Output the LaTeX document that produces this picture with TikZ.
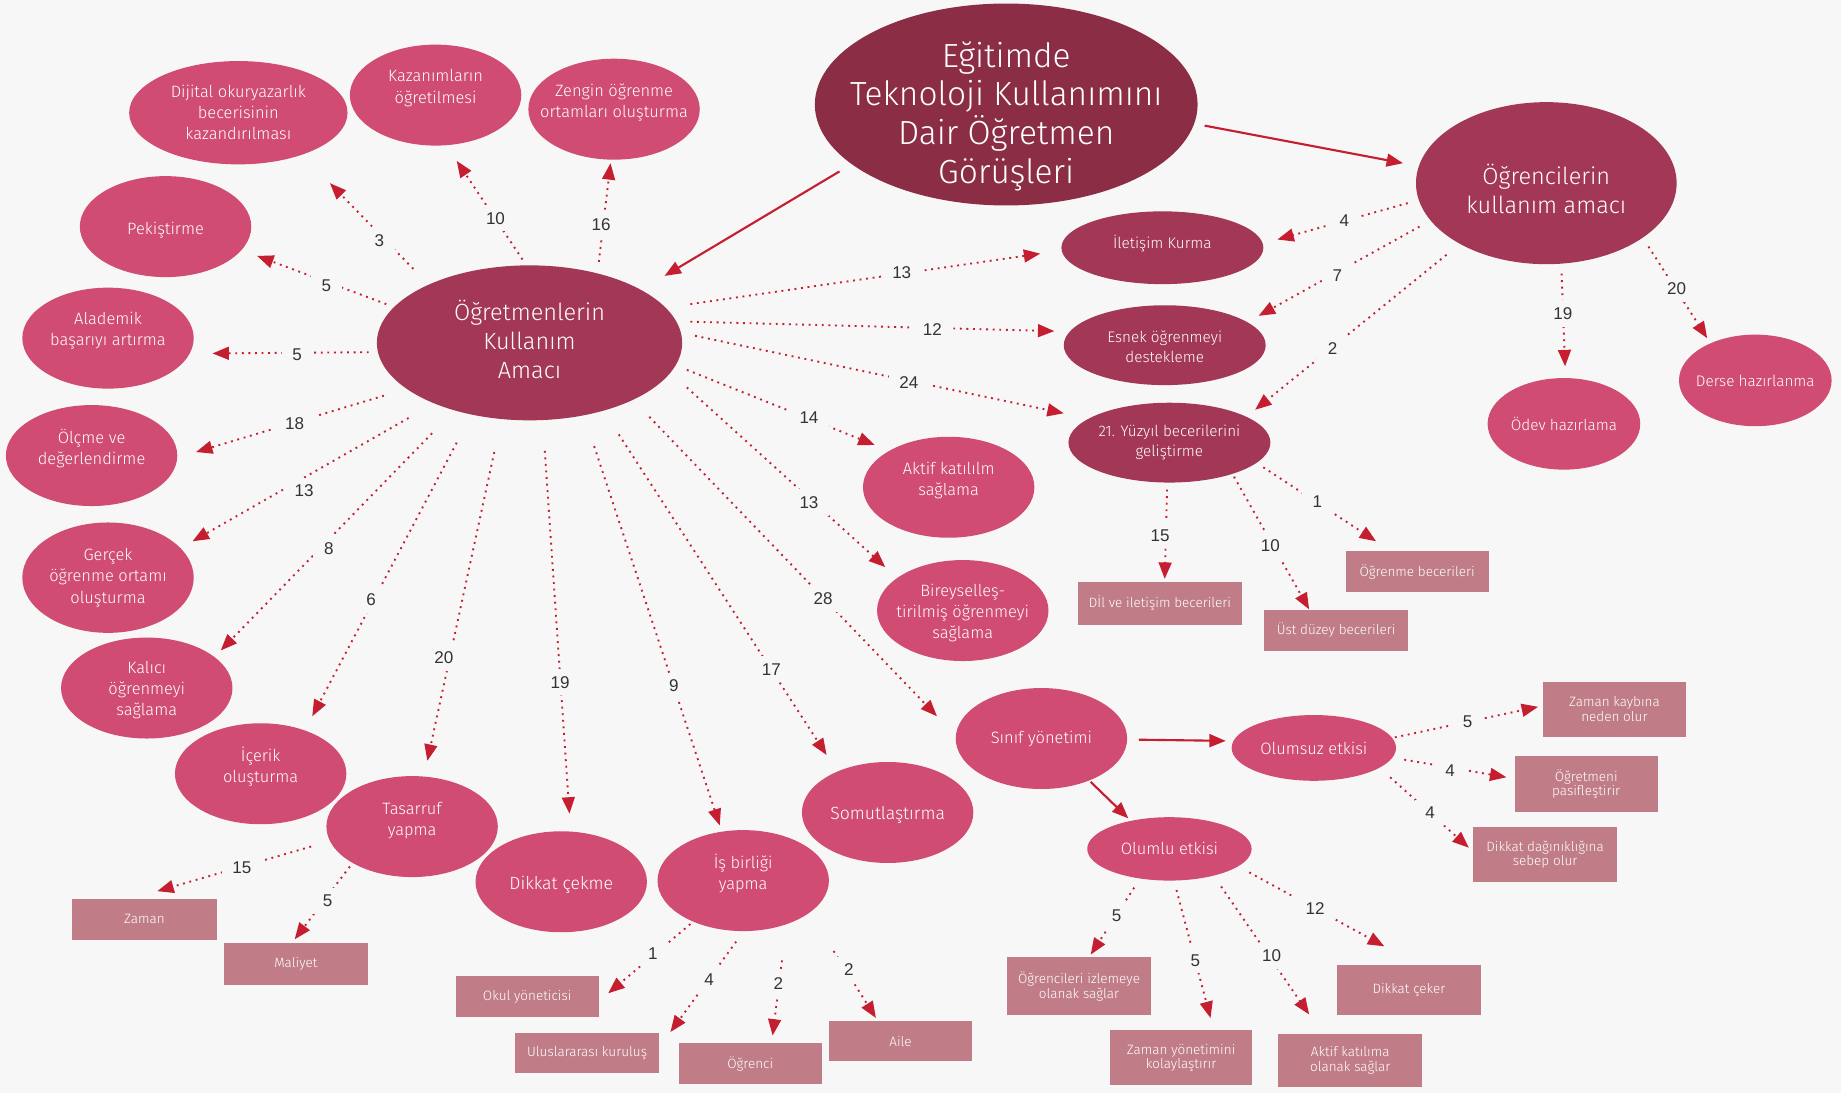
\documentclass[tikz,border=0pt]{standalone}
\usepackage{fontspec}
\setmainfont{Fira Sans Light}
\newfontfamily\lblfont{Liberation Sans}
\usetikzlibrary{shapes.geometric,arrows.meta,calc}
\definecolor{bg}{HTML}{F7F7F7}
\definecolor{titlec}{HTML}{8A2D45}
\definecolor{midc}{HTML}{A23756}
\definecolor{pinkc}{HTML}{D04C72}
\definecolor{boxc}{HTML}{C07D87}
\definecolor{arrc}{HTML}{C41E30}
\definecolor{lblc}{HTML}{333333}
\tikzset{
 ell/.style={ellipse, inner sep=0pt, draw=none},
 ttl/.style={ell, fill=titlec},
 mid/.style={ell, fill=midc},
 pink/.style={ell, fill=pinkc},
 ttxt/.style={text=white, align=center, inner sep=0pt, font=\fontsize{28.5}{33}\selectfont},
 mtxt/.style={text=white, align=center, inner sep=0pt, font=\fontsize{20}{24.5}\selectfont},
 ptxt/.style={text=white, align=center, inner sep=0pt, font=\fontsize{14}{18}\selectfont},
 stxt/.style={text=white, align=center, inner sep=0pt, font=\fontsize{13}{17}\selectfont},
 bx/.style={rectangle, fill=boxc, text=white, align=center, inner sep=0pt, font=\fontsize{11.5}{12.5}\selectfont},
 dconn/.style={arrc, line width=1.6pt, dash pattern=on 1.6pt off 4pt, -{Triangle[length=14pt,width=11pt]}},
 sconn/.style={arrc, line width=1.8pt, -{Triangle[length=14pt,width=11pt]}},
 lbl/.style={fill=bg, text=lblc, inner xsep=9pt, inner ysep=6pt, font=\lblfont\fontsize{14.5}{14.5}\selectfont},
}
\newcommand\dc[7]{\draw[dconn] ($(#2)+(#3)$) -- ($(#4)+(#5)$); \node[lbl] (#1) at (#7) {#6};}
\begin{document}
\begin{tikzpicture}[x=1pt,y=-1pt]
\fill[bg] (0,0) rectangle (1568,931);
\useasboundingbox (0,0) rectangle (1568,931);
% main nodes
\node[ttl, minimum width=326pt, minimum height=172pt, label={[ttxt, yshift=-10pt]center:{Eğitimde\\Teknoloji Kullanımını\\Dair Öğretmen\\Görüşleri}}] (title) at (857,89) {};
\node[mid, minimum width=260pt, minimum height=132pt, label={[mtxt, yshift=3pt]center:{Öğretmenlerin\\Kullanım\\Amacı}}] (ogr) at (451,292) {};
\node[mid, minimum width=222pt, minimum height=138pt, label={[mtxt, yshift=-5pt]center:{Öğrencilerin\\kullanım amacı}}] (ogc) at (1317,156) {};
% teacher purposes
\node[pink, minimum width=186pt, minimum height=88pt, label={[ptxt]center:{Dijital okuryazarlık\\becerisinin\\kazandırılması}}] (dij) at (203,96) {};
\node[pink, minimum width=146pt, minimum height=86pt, label={[ptxt, yshift=6pt]center:{Kazanımların\\öğretilmesi}}] (kaz) at (371,81) {};
\node[pink, minimum width=146pt, minimum height=86pt, label={[ptxt, yshift=6pt]center:{Zengin öğrenme\\ortamları oluşturma}}] (zen) at (523,93) {};
\node[pink, minimum width=146pt, minimum height=86pt, label={[ptxt, yshift=-3pt]center:{Pekiştirme}}] (pek) at (141,193) {};
\node[pink, minimum width=146pt, minimum height=86pt, label={[ptxt, yshift=6pt]center:{Alademik\\başarıyı artırma}}] (ala) at (92,288) {};
\node[pink, minimum width=146pt, minimum height=86pt, label={[ptxt, yshift=6pt]center:{Ölçme ve\\değerlendirme}}] (olc) at (78,388) {};
\node[pink, minimum width=146pt, minimum height=94pt, label={[ptxt]center:{Gerçek\\öğrenme ortamı\\oluşturma}}] (ger) at (92,492) {};
\node[pink, minimum width=146pt, minimum height=86pt, label={[ptxt, yshift=-2pt]center:{Kalıcı\\öğrenmeyi\\sağlama}}] (kal) at (125,586) {};
\node[pink, minimum width=146pt, minimum height=86pt, label={[ptxt, yshift=6pt]center:{İçerik\\oluşturma}}] (ice) at (222,659) {};
\node[pink, minimum width=146pt, minimum height=86pt, label={[ptxt, yshift=5pt]center:{Tasarruf\\yapma}}] (tas) at (351,704) {};
\node[pink, minimum width=146pt, minimum height=86pt, label={[ptxt, font=\fontsize{15}{18}\selectfont, yshift=-3pt]center:{Dikkat çekme}}] (dik) at (478,751) {};
\node[pink, minimum width=146pt, minimum height=86pt, label={[ptxt, yshift=6pt]center:{İş birliği\\yapma}}] (isb) at (633,750) {};
\node[pink, minimum width=146pt, minimum height=86pt, label={[ptxt, font=\fontsize{15}{18}\selectfont, yshift=-2pt]center:{Somutlaştırma}}] (som) at (756,692) {};
\node[pink, minimum width=146pt, minimum height=86pt, label={[ptxt]center:{Sınıf yönetimi}}] (sin) at (887,629) {};
\node[pink, minimum width=146pt, minimum height=86pt, label={[ptxt, yshift=-2pt]center:{Bireyselleş-\\tirilmiş öğrenmeyi\\sağlama}}] (bir) at (820,520) {};
\node[pink, minimum width=146pt, minimum height=86pt, label={[ptxt, yshift=6pt]center:{Aktif katılılm\\sağlama}}] (akt) at (808,415) {};
% student purposes
\node[mid, minimum width=172pt, minimum height=62pt, label={[stxt, yshift=4pt]center:{İletişim Kurma}}] (ile) at (990,211) {};
\node[mid, minimum width=172pt, minimum height=68pt, label={[stxt, yshift=-1pt]center:{Esnek öğrenmeyi\\destekleme}}] (esn) at (992,294) {};
\node[mid, minimum width=172pt, minimum height=68pt, label={[stxt]center:{21. Yüzyıl becerilerini\\geliştirme}}] (yuz) at (996,377) {};
\node[pink, minimum width=130pt, minimum height=78pt, label={[stxt]center:{Ödev hazırlama}}] (ode) at (1332,361) {};
\node[pink, minimum width=130pt, minimum height=78pt, label={[stxt]center:{Derse hazırlanma}}] (der) at (1495,324) {};
\node[pink, minimum width=140pt, minimum height=56pt, label={[ptxt]center:{Olumsuz etkisi}}] (olms) at (1119,637) {};
\node[pink, minimum width=140pt, minimum height=54pt, label={[ptxt]center:{Olumlu etkisi}}] (olml) at (996,723) {};
% boxes
\node[bx, minimum width=139pt, minimum height=37pt] (dil) at (988,514) {Dİl ve iletişim becerileri};
\node[bx, minimum width=123pt, minimum height=35pt] (ust) at (1138,537) {Üst düzey becerileri};
\node[bx, minimum width=122pt, minimum height=35pt] (ogb) at (1207,487) {Öğrenme becerileri};
\node[bx, minimum width=123pt, minimum height=35pt] (zam) at (123,783) {Zaman};
\node[bx, minimum width=122pt, minimum height=35pt] (mal) at (252,821) {Maliyet};
\node[bx, minimum width=122pt, minimum height=35pt] (oku) at (449,849) {Okul yöneticisi};
\node[bx, minimum width=122pt, minimum height=34pt] (ulu) at (500,897) {Uluslararası kuruluş};
\node[bx, minimum width=122pt, minimum height=35pt] (ogi) at (639,906) {Öğrenci};
\node[bx, minimum width=122pt, minimum height=34pt] (ail) at (767,887) {Aile};
\node[bx, minimum width=122pt, minimum height=47pt] (zk) at (1375,604) {Zaman kaybına\\neden olur};
\node[bx, minimum width=122pt, minimum height=48pt] (opa) at (1351,668) {Öğretmeni\\pasifleştirir};
\node[bx, minimum width=123pt, minimum height=47pt] (dd) at (1316,728) {Dikkat dağınıklığına\\sebep olur};
\node[bx, minimum width=122pt, minimum height=49pt] (oiz) at (919,840) {Öğrencileri izlemeye\\olanak sağlar};
\node[bx, minimum width=121pt, minimum height=47pt] (zy) at (1006,901) {Zaman yönetimini\\kolaylaştırır};
\node[bx, minimum width=123pt, minimum height=45pt] (ak) at (1150,903) {Aktif katılıma\\olanak sağlar};
\node[bx, minimum width=122pt, minimum height=43pt] (dcb) at (1200,843) {Dikkat çeker};
% solid connectors
\draw[sconn] ($(title)+(-142,57)$) -- ($(ogr)+(115,-57)$);
\draw[sconn] ($(title)+(169,18)$) -- ($(ogc)+(-122,-17)$);
\draw[sconn] ($(sin)+(83,1)$) -- ($(olms)+(-75,-6)$);
\draw[sconn] ($(sin)+(42,37)$) -- ($(olml)+(-35,-26)$);
% teacher purpose connectors
\dc{l1}{ogr}{-99,-63}{dij}{78,60}{3}{323,205}
\dc{l2}{ogr}{-6,-71}{kaz}{18,56}{10}{422,186}
\dc{l3}{ogr}{59,-69}{zen}{-3,46}{16}{512,191}
\dc{l4}{ogr}{-122,-33}{pek}{78,25}{5}{278,243}
\dc{l5}{ogr}{-137,8}{ala}{89,13}{5}{253,302}
\dc{l6}{ogr}{-124,45}{olc}{89,-3}{18}{251,361}
\dc{l7}{ogr}{-103,64}{ger}{72,-31}{13}{259,418}
\dc{l8}{ogr}{-83,77}{kal}{63,-32}{8}{280,467}
\dc{l9}{ogr}{-62,85}{ice}{44,-49}{6}{316,511}
\dc{l10}{ogr}{-30,93}{tas}{13,-56}{20}{378,560}
\dc{l11}{ogr}{13,92}{dik}{7,-58}{19}{477,581}
\dc{l12}{ogr}{55,88}{isb}{-20,-47}{9}{574,584}
\dc{l13}{ogr}{76,78}{som}{-52,-49}{17}{657,570}
\dc{l14}{ogr}{102,63}{sin}{-89,-19}{28}{701,510}
\dc{l15}{ogr}{134,38}{bir}{-66,-37}{13}{689,428}
\dc{l16}{ogr}{134,23}{akt}{-63,-36}{14}{689,356}
\dc{l17}{ogr}{141,-6}{yuz}{-90,-25}{24}{774,326}
\dc{l18}{ogr}{137,-18}{esn}{-94,-12}{12}{794,281}
\dc{l19}{ogr}{137,-33}{ile}{-104,5}{13}{768,232}
% student purpose connectors
\dc{l20}{ogc}{-118,17}{ile}{98,-7}{4}{1145,188}
\dc{l21}{ogc}{-108,37}{esn}{80,-25}{7}{1139,235}
\dc{l22}{ogc}{-85,61}{yuz}{73,-28}{2}{1135,297}
\dc{l23}{ogc}{13,77}{ode}{1,-49}{19}{1331,267}
\dc{l24}{ogc}{87,54}{der}{-41,-36}{20}{1428,246}
% 21st century skills
\dc{l25}{yuz}{-2,40}{dil}{4,-21}{15}{988,456}
\dc{l26}{yuz}{55,29}{ust}{-23,-18}{10}{1082,465}
\dc{l27}{yuz}{80,21}{ogb}{-35,-26}{1}{1122,427}
% savings
\dc{l28}{tas}{-86,17}{zam}{11,-24}{15}{206,739}
\dc{l29}{tas}{-53,34}{mal}{-1,-21}{5}{279,767}
% cooperation
\dc{l30}{isb}{-45,37}{oku}{69,-3}{1}{556,812}
\dc{l31}{isb}{-6,52}{ulu}{71,-18}{4}{604,834}
\dc{l32}{isb}{33,68}{ogi}{19,-24}{2}{663,838}
\dc{l33}{isb}{77,60}{ail}{-21,-20}{2}{723,826}
% negative effects
\dc{l34}{olms}{69,-9}{zk}{-65,-2}{5}{1250,615}
\dc{l35}{olms}{77,10}{opa}{-68,-6}{4}{1235,656}
\dc{l36}{olms}{65,25}{dd}{-65,-6}{4}{1218,692}
% positive effects
\dc{l37}{olml}{-30,33}{oiz}{10,-27}{5}{951,780}
\dc{l38}{olml}{6,35}{zy}{25,-34}{5}{1018,818}
\dc{l39}{olml}{44,32}{ak}{-35,-39}{10}{1083,814}
\dc{l40}{olml}{68,20}{dcb}{-21,-37}{12}{1120,774}
\end{tikzpicture}
\end{document}
